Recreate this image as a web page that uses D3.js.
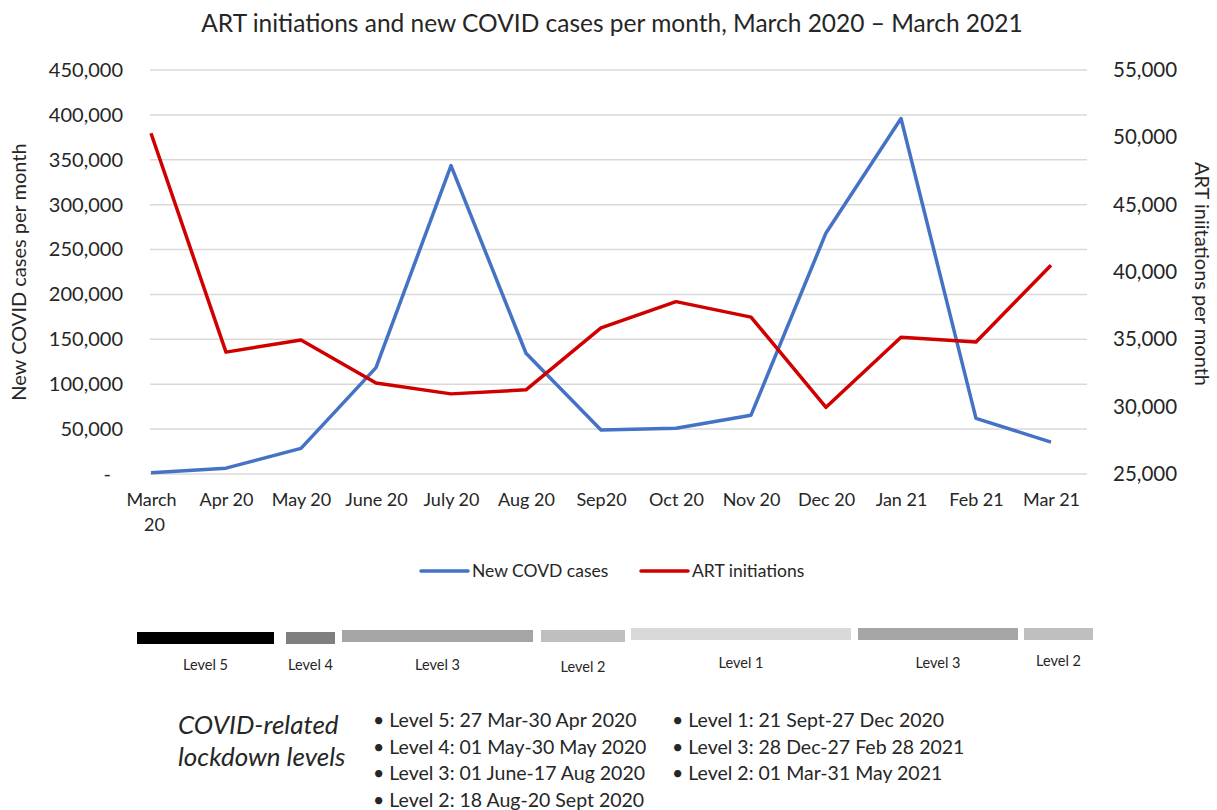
<!DOCTYPE html>
<html>
<head>
<meta charset="utf-8">
<script src="https://cdn.jsdelivr.net/npm/d3@7"></script>
<style>
  body { margin: 0; background: #fff; }
  text { font-family: Lato, "Liberation Sans", sans-serif; fill: #262626; }
</style>
</head>
<body>
<div id="chart-area"></div>
<script>
// data
var months = ["March 20", "Apr 20", "May 20", "June 20", "July 20", "Aug 20", "Sep20",
              "Oct 20", "Nov 20", "Dec 20", "Jan 21", "Feb 21", "Mar 21"];
var covidCases = [1500, 6500, 28500, 118500, 343500, 134500, 49000, 51000, 65500, 268500, 396000, 62000, 35500];
var artInitiations = [50300, 34050, 34950, 31750, 30950, 31250, 35850, 37800, 36650, 29950, 35150, 34800, 40500];
var leftTicks = [0, 50000, 100000, 150000, 200000, 250000, 300000, 350000, 400000, 450000];
var rightTicks = [25000, 30000, 35000, 40000, 45000, 50000, 55000];
var bandLevels = ["Level 5", "Level 4", "Level 3", "Level 2", "Level 1", "Level 3", "Level 2"];
var notesCol1 = ["Level 5: 27 Mar-30 Apr 2020", "Level 4: 01 May-30 May 2020",
                 "Level 3: 01 June-17 Aug 2020", "Level 2: 18 Aug-20 Sept 2020"];
var notesCol2 = ["Level 1: 21 Sept-27 Dec 2020", "Level 3: 28 Dec-27 Feb 28 2021",
                 "Level 2: 01 Mar-31 May 2021"];

// layout of the lockdown strip (drawn shapes, not data)
var bandLayout = [
  {x0: 137, x1: 274, y: 632, fill: "#000000", ly: 665},
  {x0: 286, x1: 335, y: 632, fill: "#7f7f7f", ly: 665},
  {x0: 342, x1: 533, y: 630, fill: "#a5a5a5", ly: 665},
  {x0: 541, x1: 625, y: 630, fill: "#bfbfbf", ly: 667},
  {x0: 631, x1: 851, y: 628, fill: "#d9d9d9", ly: 663},
  {x0: 858, x1: 1018, y: 628, fill: "#a5a5a5", ly: 663},
  {x0: 1024, x1: 1093, y: 628, fill: "#bfbfbf", ly: 661}
];

var svg_width = 1217;
var svg_height = 810;
var plot_left = 150, plot_right = 1087, plot_top = 70, plot_bottom = 474;
var blue = "#4472c4", red = "#d00000";

var svg = d3.select("#chart-area").append("svg")
  .attr("width", svg_width)
  .attr("height", svg_height);

var x = d3.scalePoint()
  .domain(months)
  .range([plot_left + 1, 1051]);

var yL = d3.scaleLinear()
  .domain([0, 450000])
  .range([plot_bottom, plot_top]);

var yR = d3.scaleLinear()
  .domain([25000, 55000])
  .range([plot_bottom, plot_top]);

// title
svg.append("text")
  .attr("x", 612).attr("y", 32)
  .attr("text-anchor", "middle")
  .style("font-size", "24.5px")
  .text("ART initiations and new COVID cases per month, March 2020 \u2013 March 2021");

// gridlines
svg.append("g").selectAll("line")
  .data(leftTicks)
  .enter().append("line")
    .attr("x1", plot_left).attr("x2", plot_right)
    .attr("y1", (d)=> yL(d)).attr("y2", (d)=> yL(d))
    .attr("stroke", "#d9d9d9")
    .attr("stroke-width", 1.5);

// left axis
var fmt = d3.format(",");
var leftAxis = svg.append("g")
  .attr("transform", "translate(" + (plot_left - 27) + ",0)")
  .call(d3.axisLeft(yL).tickValues(leftTicks).tickSize(0).tickPadding(0)
    .tickFormat((d)=> d === 0 ? "-" : fmt(d)));
leftAxis.select(".domain").remove();
leftAxis.selectAll("text")
  .style("font-size", "20px").style("font-family", "Lato, sans-serif").attr("fill", "#262626")
  .attr("dx", (d)=> d === 0 ? -12 : 0);

// right axis
var rightAxis = svg.append("g")
  .attr("transform", "translate(" + 1113 + ",0)")
  .call(d3.axisRight(yR).tickValues(rightTicks).tickSize(0).tickPadding(0)
    .tickFormat(fmt));
rightAxis.select(".domain").remove();
rightAxis.selectAll("text")
  .style("font-size", "20.5px").style("font-family", "Lato, sans-serif").attr("fill", "#262626");

// x axis labels
var xAxis = svg.append("g")
  .attr("transform", "translate(0," + (plot_bottom + 19) + ")")
  .call(d3.axisBottom(x).tickSize(0).tickPadding(0));
xAxis.select(".domain").remove();
xAxis.selectAll("text")
  .style("font-size", "18px").style("font-family", "Lato, sans-serif").attr("fill", "#262626")
  .each(function(d) {
    var t = d3.select(this);
    if (this.getComputedTextLength() > 68) {
      var words = d.split(" ");
      t.text(null);
      words.forEach((w, i)=> {
        t.append("tspan").attr("x", i === 0 ? 0 : 3).attr("dy", i === 0 ? "0.71em" : "1.4em").text(w);
      });
      t.attr("dy", null);
    }
  });

// axis titles
svg.append("text")
  .attr("transform", "translate(26,272) rotate(-90)")
  .attr("text-anchor", "middle")
  .style("font-size", "20px")
  .text("New COVID cases per month");

svg.append("text")
  .attr("transform", "translate(1195,274) rotate(90)")
  .attr("text-anchor", "middle")
  .style("font-size", "20px")
  .text("ART iniitations per month");

// lines
var lineL = d3.line()
  .x((d, i)=> x(months[i]))
  .y((d)=> yL(d));
var lineR = d3.line()
  .x((d, i)=> x(months[i]))
  .y((d)=> yR(d));

svg.append("path")
  .datum(covidCases)
  .attr("d", lineL)
  .attr("fill", "none")
  .attr("stroke", blue)
  .attr("stroke-width", 3.5)
  .attr("stroke-linejoin", "round");

svg.append("path")
  .datum(artInitiations)
  .attr("d", lineR)
  .attr("fill", "none")
  .attr("stroke", red)
  .attr("stroke-width", 3.5)
  .attr("stroke-linejoin", "round");

// legend
var legendItems = [
  {label: "New COVD cases", color: blue, x: 421},
  {label: "ART initiations", color: red, x: 641}
];
var legend = svg.append("g").selectAll("g")
  .data(legendItems)
  .enter().append("g")
    .attr("transform", (d)=> "translate(" + d.x + ",571)");
legend.append("line")
  .attr("x1", 0).attr("x2", 47)
  .attr("stroke", (d)=> d.color)
  .attr("stroke-width", 3.5)
  .attr("stroke-linecap", "round");
legend.append("text")
  .attr("x", 51).attr("y", 6)
  .style("font-size", "17.5px")
  .text((d)=> d.label);

// lockdown strip
var bands = svg.append("g").selectAll("g")
  .data(bandLevels)
  .enter().append("g");
bands.append("rect")
  .attr("x", (d, i)=> bandLayout[i].x0)
  .attr("y", (d, i)=> bandLayout[i].y)
  .attr("width", (d, i)=> bandLayout[i].x1 - bandLayout[i].x0)
  .attr("height", 12)
  .attr("fill", (d, i)=> bandLayout[i].fill);
bands.append("text")
  .attr("x", (d, i)=> (bandLayout[i].x0 + bandLayout[i].x1) / 2)
  .attr("y", (d, i)=> bandLayout[i].ly + 5)
  .attr("text-anchor", "middle")
  .style("font-size", "14.5px")
  .text((d)=> d);

// lockdown notes
svg.append("text")
  .attr("x", 178).attr("y", 734)
  .style("font-size", "26px").style("font-style", "italic")
  .text("COVID-related");
svg.append("text")
  .attr("x", 178).attr("y", 766)
  .style("font-size", "26px").style("font-style", "italic")
  .text("lockdown levels");

svg.append("g").selectAll("text")
  .data(notesCol1)
  .enter().append("text")
    .attr("x", 373)
    .attr("y", (d, i)=> 727 + i * 26.5)
    .style("font-size", "19.5px")
    .text((d)=> "\u2022 " + d);

svg.append("g").selectAll("text")
  .data(notesCol2)
  .enter().append("text")
    .attr("x", 672)
    .attr("y", (d, i)=> 727 + i * 26.5)
    .style("font-size", "19.5px")
    .text((d)=> "\u2022 " + d);
</script>
</body>
</html>
